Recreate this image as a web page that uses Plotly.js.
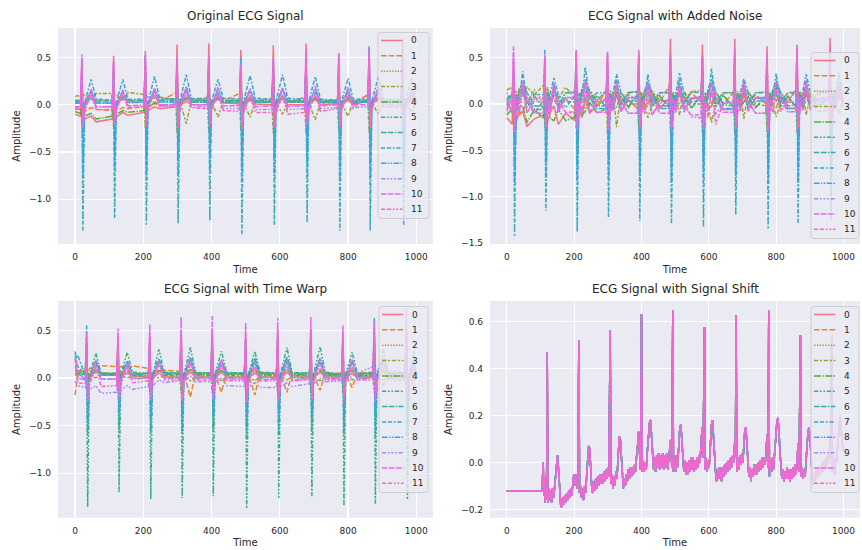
<!DOCTYPE html>
<html>
<head>
<meta charset="utf-8">
<script src="https://cdn.plot.ly/plotly-3.0.1.min.js"></script>
<style>
  html, body { margin: 0; padding: 0; background: #ffffff; }
  #chart { width: 862px; height: 550px; }
</style>
</head>
<body>
<div id="chart"></div>
<script>
// ---------------------------------------------------------------------------
// Lead labels, colours and dash patterns (12 ECG leads)
// ---------------------------------------------------------------------------
const leadNames = ['0', '1', '2', '3', '4', '5', '6', '7', '8', '9', '10', '11'];
const leadColors = ['#f77189', '#e28634', '#bb9832', '#97a431', '#50b131', '#34af84',
                    '#36ada4', '#38aabf', '#3ba3ec', '#a48cf4', '#e866f4', '#f668c2'];
const leadDashes = [
  'solid',
  '5.6px,2.1px',
  '1.4px,1.4px',
  '4.2px,1.75px,2.1px,1.75px',
  '7px,1.4px,1.4px,1.4px',
  '4.2px,1.75px,1.75px,1.75px,1.75px,1.75px',
  '5.6px,1.4px,5.6px,1.4px,1.4px,1.4px',
  '4.2px,1.75px,4.2px,1.75px,1.75px,1.75px',
  '5.6px,1.4px,1.4px,1.4px,1.4px,1.4px',
  '4.2px,1.75px,1.75px,1.75px,1.75px,1.75px,1.75px,1.75px',
  '5.6px,1.4px,5.6px,1.4px,5.6px,1.4px,1.4px,1.4px',
  '4.2px,1.75px,4.2px,1.75px,1.75px,1.75px,1.75px,1.75px'
];

// ---------------------------------------------------------------------------
// Sample times of the original recording – samples around each heartbeat
// ---------------------------------------------------------------------------
const beatTime = [0,
  16, 20, 23, 28, 47, 62,
  109, 113, 116, 121, 140, 155,
  202, 206, 209, 214, 233, 248,
  295, 299, 302, 307, 326, 341,
  388, 392, 395, 400, 419, 434,
  482, 486, 489, 494, 513, 528,
  577, 581, 584, 589, 608, 623,
  673, 677, 680, 685, 704, 719,
  769, 773, 776, 781, 800, 815,
  858, 862, 865, 870, 889, 904,
  956, 960, 963, 968, 987, 999];

// Sample times of the noisy recording (extra samples between beats)
const noisyTime = [0,
  16, 20, 23, 28, 37, 47, 60, 82,
  109, 113, 116, 121, 130, 140, 153, 175,
  202, 206, 209, 214, 223, 233, 246, 268,
  295, 299, 302, 307, 316, 326, 339, 361,
  388, 392, 395, 400, 409, 419, 432, 454,
  482, 486, 489, 494, 503, 513, 526, 548,
  577, 581, 584, 589, 598, 608, 621, 643,
  673, 677, 680, 685, 694, 704, 717, 739,
  769, 773, 776, 781, 790, 800, 813, 835,
  858, 862, 865, 870, 879, 889, 902, 924,
  956, 960, 963, 968, 977, 987, 999];

// Sample times of the time-warped recording
const warpTime = [0, 8,
  30, 34, 37, 42, 61, 76,
  122, 126, 129, 134, 153, 168,
  215, 219, 222, 227, 246, 261,
  307, 311, 314, 319, 338, 353,
  398, 402, 405, 410, 429, 444,
  496, 500, 503, 508, 527, 542,
  590, 594, 597, 602, 621, 636,
  687, 691, 694, 699, 718, 733,
  781, 785, 788, 793, 812, 827,
  873, 877, 880, 885, 904, 919,
  967, 971, 974, 979, 993, 999];

// ---------------------------------------------------------------------------
// Original ECG signal, one array per lead
// ---------------------------------------------------------------------------
const original0 = [-0.10, -0.12,0.49,-0.22,-0.15,-0.12,-0.18, -0.15,0.52,-0.17,-0.13,-0.08,-0.11, -0.08,0.57,-0.10,-0.06,-0.02,-0.04, -0.02,0.64,-0.05,-0.01,0.04,0.00, 0.00,0.65,-0.04,0.01,0.06,0.02, 0.01,0.58,-0.05,0.00,0.05,0.01, 0.00,0.63,-0.04,0.01,0.07,0.00, 0.00,0.65,-0.04,0.00,0.06,0.00, 0.01,0.55,-0.06,0.00,0.05,0.01, 0.04,0.60,-0.04,0.00,0.08,0.02, 0.03,0.71,-0.03,0.01,0.06,0.02];
const original1 = [-0.04, -0.05,0.22,-0.10,-0.07,-0.03,-0.05, -0.06,0.25,-0.09,-0.06,-0.03,-0.04, -0.02,0.30,-0.06,-0.02,0.01,0.03, 0.13,0.35,-0.05,0.02,0.06,0.05, 0.08,0.36,-0.05,0.03,0.06,0.04, 0.12,0.31,-0.05,0.02,0.05,0.04, 0.07,0.33,-0.05,0.02,0.04,0.03, 0.08,0.36,-0.04,0.02,0.06,0.04, 0.05,0.30,-0.05,0.02,0.04,0.03, 0.10,0.35,-0.04,0.02,0.05,0.04, 0.06,0.40,-0.05,0.02,0.05,0.03];
const original2 = [0.04, 0.04,0.15,-0.04,0.03,0.06,0.05, 0.05,0.18,-0.03,0.04,0.06,0.05, 0.05,0.20,-0.03,0.04,0.07,0.05, 0.06,0.22,-0.02,0.04,0.06,0.05, 0.05,0.22,-0.02,0.04,0.07,0.04, 0.05,0.20,-0.03,0.03,0.06,0.04, 0.04,0.21,-0.02,0.03,0.06,0.04, 0.04,0.22,-0.02,0.03,0.06,0.04, 0.04,0.19,-0.03,0.03,0.05,0.04, 0.05,0.22,-0.02,0.03,0.06,0.04, 0.05,0.24,-0.02,0.04,0.06,0.04];
const original3 = [0.09, 0.10,-0.20,0.12,0.10,0.06,0.12, 0.12,-0.24,0.10,0.11,0.05,0.13, 0.11,-0.25,0.09,0.08,0.02,0.08, 0.06,-0.30,0.06,0.05,-0.20,0.05, 0.05,-0.30,0.05,0.03,-0.13,0.04, 0.04,-0.28,0.05,0.02,-0.13,0.03, 0.03,-0.30,0.05,0.02,-0.10,0.03, 0.03,-0.31,0.04,0.02,-0.16,0.02, 0.03,-0.28,0.04,0.02,-0.12,0.03, 0.04,-0.30,0.05,0.02,-0.10,0.03, 0.04,-0.32,0.05,0.03,-0.08,0.04];
const original4 = [-0.07, -0.09,0.30,-0.15,-0.12,-0.09,-0.15, -0.12,0.35,-0.12,-0.10,-0.06,-0.08, -0.06,0.40,-0.07,-0.03,0.02,-0.01, 0.01,0.45,-0.04,0.02,0.07,0.03, 0.03,0.45,-0.03,0.03,0.08,0.03, 0.03,0.42,-0.03,0.02,0.07,0.03, 0.03,0.44,-0.03,0.03,0.08,0.03, 0.03,0.45,-0.03,0.03,0.07,0.03, 0.03,0.40,-0.04,0.02,0.07,0.02, 0.03,0.44,-0.03,0.03,0.08,0.03, 0.03,0.48,-0.03,0.03,0.07,0.03];
const original5 = [0.02, 0.02,0.15,-0.35,0.00,0.08,0.02, 0.02,0.18,-0.33,0.00,0.08,0.03, 0.03,0.20,-0.35,0.01,0.09,0.03, 0.03,0.22,-0.35,0.01,0.09,0.03, 0.03,0.22,-0.34,0.01,0.08,0.03, 0.03,0.20,-0.38,0.01,0.09,0.03, 0.03,0.21,-0.35,0.01,0.10,0.03, 0.03,0.22,-0.34,0.01,0.08,0.03, 0.02,0.19,-0.36,0.01,0.09,0.03, 0.03,0.22,-0.36,0.01,0.09,0.03, 0.03,0.24,-0.35,0.01,0.08,0.03];
const original6 = [0.04, 0.04,0.25,-0.60,0.02,0.12,0.04, 0.04,0.28,-0.55,0.02,0.12,0.04, 0.05,0.30,-0.58,0.03,0.14,0.05, 0.05,0.32,-0.58,0.03,0.15,0.05, 0.05,0.32,-0.56,0.03,0.12,0.05, 0.05,0.30,-0.62,0.03,0.14,0.05, 0.05,0.31,-0.58,0.03,0.15,0.05, 0.05,0.32,-0.57,0.03,0.13,0.05, 0.04,0.29,-0.60,0.03,0.13,0.04, 0.05,0.32,-0.60,0.03,0.13,0.05, 0.05,0.34,-0.58,0.03,0.12,0.05];
const original7 = [0.05, 0.05,0.28,-1.33,0.02,0.27,0.06, 0.05,0.25,-1.20,0.03,0.27,0.06, 0.06,0.30,-1.27,0.03,0.30,0.07, 0.06,0.30,-1.26,0.04,0.32,0.07, 0.06,0.30,-1.23,0.04,0.27,0.07, 0.06,0.28,-1.37,0.04,0.31,0.07, 0.06,0.30,-1.27,0.04,0.32,0.07, 0.06,0.30,-1.24,0.04,0.30,0.06, 0.05,0.28,-1.33,0.04,0.28,0.06, 0.06,0.30,-1.33,0.04,0.30,0.06, 0.06,0.32,-1.27,0.04,0.28,0.06];
const original8 = [0.02, 0.02,0.30,-0.75,0.00,0.15,0.02, 0.02,0.35,-0.70,0.00,0.15,0.02, 0.03,0.53,-0.75,0.01,0.17,0.03, 0.03,0.40,-0.75,0.01,0.18,0.03, 0.03,0.42,-0.72,0.01,0.16,0.03, 0.03,0.50,-0.80,0.01,0.17,0.03, 0.03,0.48,-0.75,0.01,0.18,0.03, 0.03,0.45,-0.72,0.01,0.17,0.03, 0.02,0.42,-0.78,0.01,0.16,0.02, 0.03,0.62,-0.78,0.01,0.18,0.03, 0.03,0.55,-0.75,0.01,0.16,0.03];
const original9 = [-0.02, -0.02,0.54,-0.20,-0.04,0.10,-0.02, -0.02,0.45,-0.18,-0.04,0.10,-0.01, -0.01,0.47,-0.18,-0.03,0.11,-0.01, -0.01,0.50,-0.19,-0.03,0.12,-0.02, -0.02,0.50,-0.18,-0.04,0.11,-0.04, -0.04,0.44,-0.22,-0.06,0.10,-0.05, -0.05,0.47,-0.20,-0.06,0.11,-0.05, -0.04,0.50,-0.19,-0.05,0.12,-0.04, -0.03,0.48,-0.21,-0.05,0.11,-0.03, -0.02,0.52,-0.20,-0.04,0.12,-0.02, -0.02,0.55,-0.19,-0.03,0.11,-0.02];
const original10 = [-0.03, -0.02,0.50,-0.25,-0.05,0.17,-0.02, -0.02,0.47,-0.22,-0.04,0.16,-0.01, 0.00,0.53,-0.23,-0.03,0.18,0.00, 0.00,0.50,-0.24,-0.03,0.20,0.00, 0.00,0.52,-0.23,-0.03,0.19,-0.01, -0.01,0.42,-0.26,-0.04,0.17,-0.02, -0.01,0.48,-0.24,-0.04,0.18,-0.02, -0.01,0.57,-0.23,-0.03,0.20,-0.01, 0.00,0.53,-0.25,-0.03,0.19,0.00, 0.00,0.58,-0.24,-0.03,0.20,0.00, 0.00,0.60,-0.23,-0.02,0.18,0.00];
const original11 = [-0.05, -0.04,0.45,-0.20,-0.06,0.12,-0.05, -0.05,0.44,-0.18,-0.06,0.12,-0.03, -0.02,0.48,-0.18,-0.04,0.14,-0.02, -0.02,0.47,-0.19,-0.04,0.15,-0.03, -0.04,0.48,-0.19,-0.05,0.12,-0.06, -0.07,0.40,-0.21,-0.08,0.10,-0.08, -0.08,0.45,-0.20,-0.09,0.10,-0.10, -0.08,0.50,-0.19,-0.08,0.12,-0.07, -0.04,0.48,-0.21,-0.05,0.12,-0.04, 0.12,0.55,-0.20,-0.03,0.15,-0.02, -0.02,0.58,-0.20,-0.02,0.12,-0.02];

// ---------------------------------------------------------------------------
// ECG signal with added noise
// ---------------------------------------------------------------------------
const noisy0 = [-0.15, -0.22,0.45,-0.28,-0.18,-0.10,-0.08,-0.24,-0.16, -0.12,0.50,-0.24,-0.20,-0.08,-0.02,-0.22,-0.10, -0.18,0.58,-0.14,-0.05,-0.15,0.06,-0.10,-0.02, 0.05,0.52,-0.12,0.07,-0.06,0.10,-0.08,0.04, -0.05,0.58,-0.08,0.08,-0.06,0.02,0.08,-0.05, 0.06,0.70,-0.10,-0.05,0.07,0.12,-0.06,0.05, 0.08,0.64,-0.09,0.05,-0.07,-0.02,0.07,-0.06, -0.06,0.70,-0.08,0.09,-0.05,0.10,-0.05,0.06, 0.07,0.62,-0.12,-0.06,0.06,0.04,0.08,-0.05, -0.05,0.60,-0.08,0.07,-0.06,0.12,-0.06,0.05, 0.06,0.71,-0.10,-0.04,0.05,0.08,0.03];
const noisy1 = [0.02, -0.10,0.25,-0.15,0.05,-0.12,-0.08,0.02,-0.10, 0.04,0.22,-0.12,-0.09,0.05,0.06,-0.05,0.06, -0.06,0.33,-0.10,0.07,-0.05,-0.04,0.09,-0.02, 0.15,0.38,-0.12,-0.04,0.12,0.10,0.00,0.10, 0.04,0.35,-0.09,0.12,-0.02,-0.03,0.10,0.02, 0.19,0.30,-0.10,-0.02,0.10,0.09,0.03,0.12, 0.02,0.36,-0.08,0.10,-0.03,-0.02,0.12,0.00, 0.12,0.33,-0.09,-0.03,0.10,0.11,0.01,0.10, 0.00,0.30,-0.11,0.12,-0.02,-0.04,0.09,0.02, 0.16,0.38,-0.07,-0.02,0.10,0.10,0.02,0.11, 0.03,0.40,-0.09,0.10,-0.02,0.06,0.06];
const noisy2 = [0.12, -0.02,0.18,-0.08,0.14,0.00,0.15,0.02,0.15, 0.02,0.20,-0.06,0.15,0.01,0.14,-0.02,0.12, 0.14,0.23,-0.05,-0.01,0.14,0.02,0.13,0.02, 0.02,0.25,-0.05,0.15,0.01,0.13,0.01,0.13, 0.13,0.22,-0.06,0.00,0.14,0.03,0.14,0.03, 0.00,0.24,-0.07,0.13,0.02,0.14,0.02,0.14, 0.14,0.25,-0.05,0.01,0.12,0.00,0.12,0.00, 0.01,0.23,-0.06,0.14,0.02,0.12,0.02,0.12, 0.13,0.21,-0.05,0.00,0.13,0.02,0.13,0.02, 0.00,0.24,-0.06,0.14,0.01,0.12,0.01,0.12, 0.12,0.25,-0.05,0.02,0.11,0.05,0.08];
const noisy3 = [0.15, 0.18,-0.22,0.16,0.04,0.17,0.08,0.18,0.10, 0.20,-0.26,0.12,0.18,0.02,0.17,0.06,0.18, 0.06,-0.27,0.14,0.00,0.16,0.05,0.15,0.04, 0.14,-0.32,0.10,0.02,0.12,-0.25,0.12,0.00, 0.00,-0.30,0.12,0.13,-0.02,-0.15,0.00,0.12, 0.13,-0.30,0.08,-0.02,0.12,-0.12,0.14,0.00, 0.00,-0.31,0.11,0.12,0.00,-0.20,0.00,0.12, 0.12,-0.32,0.09,-0.02,0.12,-0.16,0.13,0.00, -0.02,-0.30,0.10,0.12,0.00,-0.14,0.02,0.12, 0.13,-0.31,0.08,-0.03,0.12,-0.12,0.12,0.00, 0.00,-0.33,0.10,0.12,0.00,-0.10,0.05];
const noisy4 = [-0.12, -0.05,0.32,-0.20,-0.18,-0.04,-0.02,-0.20,-0.06, -0.16,0.36,-0.18,-0.04,-0.16,-0.18,-0.06,-0.18, -0.14,0.42,-0.10,0.05,-0.12,-0.08,0.02,-0.10, -0.05,0.46,-0.10,0.10,-0.06,-0.03,0.08,-0.04, 0.10,0.45,-0.08,-0.04,0.09,0.12,-0.03,0.08, -0.04,0.44,-0.08,0.10,-0.04,0.00,0.09,-0.05, 0.09,0.45,-0.07,-0.05,0.10,0.12,-0.02,0.09, -0.03,0.46,-0.09,0.10,-0.04,0.02,0.08,-0.04, 0.08,0.42,-0.08,-0.04,0.09,0.11,-0.03,0.08, -0.03,0.45,-0.07,0.09,-0.03,0.02,0.08,-0.04, 0.09,0.48,-0.08,-0.03,0.08,0.10,0.02];
const noisy5 = [0.06, 0.10,0.16,-0.40,-0.06,0.10,0.18,-0.04,0.09, -0.05,0.20,-0.38,0.08,-0.04,0.10,0.07,-0.04, 0.09,0.22,-0.40,-0.05,0.10,0.20,-0.03,0.09, -0.04,0.25,-0.40,0.09,-0.03,0.12,0.08,-0.03, 0.10,0.24,-0.38,-0.04,0.10,0.19,-0.02,0.09, -0.03,0.22,-0.42,0.10,-0.03,0.13,0.09,-0.04, 0.09,0.23,-0.40,-0.05,0.12,0.22,-0.03,0.09, -0.04,0.24,-0.38,0.09,-0.03,0.12,0.08,-0.04, 0.08,0.21,-0.41,-0.04,0.10,0.19,-0.02,0.08, -0.03,0.24,-0.40,0.09,-0.03,0.13,0.08,-0.03, 0.08,0.26,-0.39,-0.03,0.09,0.18,0.02];
const noisy6 = [-0.02, 0.12,0.28,-0.65,-0.04,0.14,0.24,0.12,-0.02, -0.03,0.30,-0.60,0.13,0.00,0.22,-0.02,0.12, 0.12,0.32,-0.63,-0.03,0.15,0.27,0.13,-0.02, -0.02,0.34,-0.63,0.12,0.02,0.26,-0.01,0.12, 0.13,0.34,-0.60,-0.02,0.14,0.24,0.12,-0.02, -0.02,0.32,-0.68,0.12,0.03,0.27,0.00,0.13, 0.12,0.33,-0.63,-0.03,0.16,0.27,0.13,-0.01, -0.02,0.34,-0.62,0.12,0.02,0.25,-0.01,0.12, 0.12,0.31,-0.65,-0.02,0.15,0.26,0.12,-0.02, -0.01,0.34,-0.65,0.13,0.02,0.25,0.00,0.12, 0.12,0.36,-0.63,-0.02,0.14,0.24,0.10];
const noisy7 = [0.04, 0.08,0.30,-1.42,0.10,0.02,0.35,0.02,0.10, 0.10,0.28,-1.15,0.00,0.12,0.28,0.10,0.02, 0.02,0.32,-1.38,0.12,0.04,0.40,0.04,0.12, 0.12,0.32,-1.22,0.02,0.13,0.32,0.12,0.03, 0.03,0.32,-1.26,0.12,0.04,0.32,0.02,0.12, 0.12,0.30,-1.29,0.03,0.13,0.33,0.12,0.02, 0.04,0.32,-1.32,0.12,0.05,0.38,0.03,0.12, 0.12,0.32,-1.19,0.02,0.13,0.27,0.12,0.03, 0.03,0.30,-1.34,0.12,0.04,0.33,0.02,0.12, 0.12,0.32,-1.29,0.03,0.13,0.32,0.12,0.03, 0.03,0.34,-1.25,0.10,0.05,0.33,0.06];
const noisy8 = [-0.05, 0.05,0.35,-0.85,-0.08,0.06,0.20,0.06,-0.06, -0.06,0.58,-0.80,0.08,-0.05,0.18,-0.05,0.07, 0.06,0.55,-0.82,-0.06,0.07,0.22,0.07,-0.05, -0.05,0.45,-0.80,0.07,-0.04,0.20,-0.06,0.06, 0.06,0.46,-0.78,-0.06,0.07,0.21,0.07,-0.05, -0.05,0.52,-0.85,0.07,-0.05,0.20,-0.05,0.07, 0.07,0.50,-0.80,-0.05,0.08,0.22,0.06,-0.05, -0.05,0.50,-0.78,0.07,-0.04,0.19,-0.06,0.06, 0.06,0.45,-0.85,-0.06,0.07,0.21,0.07,-0.05, -0.04,0.63,-0.82,0.07,-0.04,0.22,-0.05,0.06, 0.06,0.56,-0.80,-0.05,0.06,0.20,0.05];
const noisy9 = [0.02, -0.08,0.55,-0.24,0.04,-0.09,0.14,-0.09,0.03, 0.04,0.48,-0.22,-0.10,0.03,0.15,0.03,-0.09, -0.10,0.50,-0.22,0.03,-0.10,0.14,-0.09,0.03, 0.03,0.52,-0.24,-0.10,0.02,0.16,0.02,-0.10, -0.10,0.52,-0.22,0.02,-0.11,0.14,-0.12,0.01, 0.00,0.47,-0.26,-0.12,0.00,0.13,-0.02,-0.12, -0.12,0.50,-0.24,0.00,-0.12,0.15,-0.11,0.01, 0.01,0.52,-0.23,-0.10,0.01,0.16,0.00,-0.10, -0.10,0.50,-0.25,0.02,-0.09,0.14,-0.08,0.02, 0.02,0.54,-0.24,-0.09,0.02,0.16,0.01,-0.08, -0.08,0.56,-0.23,0.02,-0.07,0.14,-0.05];
const noisy10 = [-0.08, 0.08,0.62,-0.30,-0.12,0.07,0.24,0.06,-0.10, -0.10,0.52,-0.27,0.08,-0.09,0.22,-0.08,0.07, 0.07,0.56,-0.28,-0.10,0.06,0.25,0.08,-0.09, -0.09,0.56,-0.28,0.08,-0.08,0.24,-0.08,0.07, 0.07,0.55,-0.27,-0.10,0.06,0.23,0.06,-0.10, -0.10,0.50,-0.30,0.07,-0.09,0.22,-0.09,0.06, 0.06,0.52,-0.28,-0.10,0.07,0.23,0.07,-0.09, -0.09,0.60,-0.27,0.08,-0.08,0.25,-0.08,0.07, 0.07,0.56,-0.29,-0.09,0.06,0.24,0.06,-0.09, -0.08,0.64,-0.28,0.08,-0.07,0.25,-0.07,0.06, 0.06,0.62,-0.27,-0.08,0.05,0.22,0.04];
const noisy11 = [0.05, -0.10,0.50,-0.24,0.07,-0.10,0.18,-0.10,0.06, 0.06,0.48,-0.22,-0.12,0.05,0.17,0.05,-0.10, -0.08,0.58,-0.22,0.06,-0.08,0.20,-0.10,0.05, 0.05,0.56,-0.23,-0.10,0.05,0.20,0.04,-0.10, -0.10,0.54,-0.22,0.05,-0.10,0.17,-0.12,0.04, 0.03,0.45,-0.25,-0.14,0.03,0.15,0.02,-0.14, -0.15,0.50,-0.24,0.03,-0.15,0.16,-0.22,0.02, 0.02,0.55,-0.23,-0.12,0.03,0.18,0.03,-0.10, -0.10,0.52,-0.25,0.05,-0.09,0.17,-0.08,0.05, 0.12,0.60,-0.24,-0.08,0.10,0.20,0.05,-0.08, -0.06,0.62,-0.23,0.04,-0.05,0.17,-0.03];

// ---------------------------------------------------------------------------
// ECG signal with time warp
// ---------------------------------------------------------------------------
const warped0 = [0.07, 0.08, 0.06,0.40,-0.08,0.02,0.06,0.05, 0.04,0.42,-0.06,0.02,0.05,0.02, 0.01,0.44,-0.06,0.00,0.05,0.01, 0.01,0.50,-0.05,0.00,0.06,0.01, 0.01,0.52,-0.05,0.00,0.06,0.01, 0.01,0.46,-0.06,0.00,0.05,0.01, 0.01,0.50,-0.05,0.00,0.06,0.01, 0.01,0.52,-0.05,0.00,0.06,0.01, 0.01,0.45,-0.06,0.00,0.05,0.01, 0.01,0.50,-0.05,0.00,0.06,0.01, 0.01,0.55,-0.05,0.00,0.05,0.01];
const warped1 = [-0.18, 0.05, 0.09,0.15,-0.06,0.10,0.12,0.13, 0.12,0.20,-0.05,0.12,0.10,0.13, 0.10,0.16,-0.05,0.08,0.06,0.08, 0.07,0.12,-0.06,0.05,-0.20,0.05, 0.05,0.12,-0.05,0.04,-0.15,0.05, 0.05,0.10,-0.06,0.04,-0.18,0.06, 0.05,0.12,-0.05,0.04,-0.15,0.05, 0.05,0.12,-0.05,0.04,-0.13,0.05, 0.05,0.10,-0.06,0.04,-0.10,0.05, 0.06,0.12,-0.05,0.04,-0.08,0.05, 0.05,0.12,-0.05,0.04,-0.10,0.04];
const warped2 = [0.04, 0.05, 0.04,0.18,-0.04,0.03,0.06,0.05, 0.05,0.18,-0.03,0.04,0.06,0.05, 0.05,0.20,-0.03,0.04,0.07,0.05, 0.05,0.22,-0.02,0.04,0.06,0.05, 0.05,0.22,-0.02,0.04,0.07,0.04, 0.05,0.20,-0.03,0.03,0.06,0.04, 0.04,0.21,-0.02,0.03,0.06,0.04, 0.04,0.22,-0.02,0.03,0.06,0.04, 0.04,0.19,-0.03,0.03,0.05,0.04, 0.05,0.22,-0.02,0.03,0.06,0.04, 0.05,0.24,-0.02,0.04,0.06,0.04];
const warped3 = [0.03, 0.02, 0.02,-0.12,0.06,0.03,0.00,0.03, 0.03,-0.14,0.05,0.02,0.00,0.02, 0.02,-0.15,0.05,0.02,0.00,0.02, 0.02,-0.16,0.04,0.02,-0.03,0.02, 0.02,-0.16,0.04,0.02,-0.03,0.02, 0.02,-0.15,0.04,0.02,-0.03,0.02, 0.02,-0.16,0.04,0.02,-0.02,0.02, 0.02,-0.16,0.04,0.02,-0.03,0.02, 0.02,-0.15,0.04,0.02,-0.02,0.02, 0.02,-0.16,0.04,0.02,-0.02,0.02, 0.02,-0.17,0.04,0.02,-0.02,0.02];
const warped4 = [0.08, 0.06, 0.05,0.35,-0.06,0.04,0.08,0.05, 0.05,0.36,-0.05,0.04,0.08,0.04, 0.04,0.40,-0.05,0.03,0.08,0.04, 0.04,0.45,-0.04,0.03,0.09,0.04, 0.04,0.45,-0.04,0.03,0.08,0.04, 0.04,0.42,-0.04,0.03,0.08,0.04, 0.04,0.44,-0.04,0.03,0.09,0.04, 0.04,0.45,-0.04,0.03,0.08,0.04, 0.03,0.40,-0.04,0.03,0.08,0.03, 0.04,0.44,-0.04,0.03,0.09,0.04, 0.04,0.48,-0.04,0.03,0.08,0.04];
const warped5 = [0.28, 0.12, 0.04,0.30,-1.35,0.02,0.26,0.05, 0.04,0.28,-1.20,0.03,0.27,0.06, 0.05,0.30,-1.27,0.03,0.30,0.06, 0.05,0.30,-1.26,0.04,0.32,0.06, 0.05,0.30,-1.24,0.04,0.28,0.06, 0.05,0.28,-1.37,0.04,0.28,0.06, 0.05,0.30,-1.26,0.04,0.32,0.06, 0.05,0.30,-1.24,0.04,0.33,0.06, 0.04,0.28,-1.34,0.04,0.27,0.05, 0.05,0.63,-1.32,0.04,0.30,0.05, 0.05,0.32,-1.27,0.04,0.28,0.05];
const warped6 = [0.05, 0.04, 0.04,0.25,-0.60,0.02,0.18,0.04, 0.04,0.26,-0.55,0.02,0.18,0.04, 0.05,0.28,-0.58,0.03,0.20,0.05, 0.05,0.30,-0.58,0.03,0.22,0.05, 0.05,0.30,-0.56,0.03,0.19,0.05, 0.05,0.28,-0.62,0.03,0.21,0.05, 0.05,0.29,-0.58,0.03,0.22,0.05, 0.05,0.30,-0.57,0.03,0.21,0.05, 0.04,0.27,-0.60,0.03,0.19,0.04, 0.05,0.30,-0.60,0.03,0.21,0.05, 0.05,0.32,-0.58,0.03,0.19,0.05];
const warped7 = [0.20, 0.24, 0.02,0.55,-0.50,0.00,0.18,0.03, 0.03,0.30,-0.45,0.01,0.17,0.03, 0.03,0.32,-0.48,0.01,0.19,0.03, 0.03,0.33,-0.48,0.01,0.20,0.03, 0.03,0.33,-0.46,0.01,0.18,0.03, 0.03,0.30,-0.52,0.01,0.19,0.03, 0.03,0.32,-0.48,0.01,0.20,0.03, 0.03,0.33,-0.47,0.01,0.19,0.03, 0.02,0.30,-0.50,0.01,0.18,0.02, 0.03,0.33,-0.50,0.01,0.19,0.03, 0.03,0.35,-0.48,0.01,0.18,0.03];
const warped8 = [0.12, 0.05, -0.02,0.35,-0.40,-0.03,0.16,-0.01, -0.01,0.32,-0.36,-0.03,0.15,-0.01, 0.00,0.35,-0.38,-0.02,0.17,0.00, 0.00,0.36,-0.38,-0.02,0.18,0.00, 0.00,0.36,-0.37,-0.02,0.16,0.00, 0.00,0.33,-0.41,-0.02,0.17,0.00, 0.00,0.35,-0.38,-0.02,0.18,0.00, 0.00,0.36,-0.37,-0.02,0.17,0.00, -0.01,0.33,-0.40,-0.02,0.16,-0.01, 0.00,0.36,-0.40,-0.02,0.17,0.00, 0.00,0.38,-0.38,-0.02,0.16,0.00];
const warped9 = [-0.03, -0.08, -0.10,0.30,-0.18,-0.12,-0.08,-0.16, -0.15,0.32,-0.18,-0.13,-0.08,-0.12, -0.09,0.36,-0.15,-0.08,-0.02,-0.05, -0.03,0.40,-0.12,-0.04,0.02,-0.04, -0.04,0.40,-0.12,-0.05,0.00,-0.08, -0.09,0.36,-0.14,-0.09,-0.05,-0.10, -0.10,0.40,-0.13,-0.09,-0.05,-0.09, -0.06,0.42,-0.13,-0.06,0.00,-0.04, -0.03,0.40,-0.14,-0.04,0.02,0.05, 0.12,0.45,-0.13,0.08,0.15,0.08, 0.05,0.45,-0.12,0.03,0.10,0.03];
const warped10 = [0.24, 0.00, -0.02,0.47,-0.25,-0.04,0.17,-0.01, -0.01,0.52,-0.22,-0.03,0.16,0.00, 0.00,0.56,-0.23,-0.03,0.18,0.00, 0.00,0.64,-0.24,-0.03,0.20,0.00, 0.00,0.65,-0.23,-0.03,0.19,-0.01, -0.01,0.58,-0.26,-0.04,0.17,-0.02, -0.01,0.63,-0.24,-0.04,0.18,-0.02, -0.01,0.64,-0.23,-0.03,0.20,-0.01, 0.00,0.55,-0.25,-0.03,0.19,0.00, 0.00,0.60,-0.24,-0.03,0.20,0.00, 0.00,0.72,-0.23,-0.02,0.18,0.00];
const warped11 = [0.20, -0.05, -0.06,0.45,-0.20,-0.08,0.12,-0.09, -0.08,0.44,-0.18,-0.08,0.12,-0.05, -0.03,0.48,-0.18,-0.04,0.14,-0.02, -0.02,0.47,-0.19,-0.04,0.15,-0.02, -0.02,0.48,-0.19,-0.04,0.13,-0.03, -0.03,0.42,-0.21,-0.05,0.12,-0.03, -0.03,0.45,-0.20,-0.05,0.12,-0.03, -0.02,0.50,-0.19,-0.04,0.13,-0.02, -0.02,0.48,-0.21,-0.04,0.12,-0.02, -0.02,0.52,-0.20,-0.03,0.14,-0.02, -0.02,0.55,-0.20,-0.02,0.12,-0.02];

// ---------------------------------------------------------------------------
// ECG signal with signal shift (identical for every lead)
// ---------------------------------------------------------------------------
const shiftTime = [
  0, 104, 106, 108, 110, 112, 114, 116, 118, 120,
  122, 124, 127, 130, 133, 136, 139, 142, 145, 148,
  151, 154, 157, 160, 163, 166, 169, 172, 175, 178,
  181, 184, 187, 190, 193, 196, 199, 202, 205, 208,
  211, 214, 216, 219, 222, 225, 228, 231, 234, 237,
  240, 243, 246, 249, 252, 255, 258, 261, 264, 267,
  270, 273, 276, 279, 282, 285, 288, 291, 294, 297,
  300, 303, 307, 309, 312, 315, 318, 321, 324, 327,
  330, 334, 337, 340, 343, 346, 349, 352, 355, 358,
  361, 364, 367, 370, 373, 376, 379, 382, 385, 388,
  391, 394, 397, 400, 402, 405, 408, 411, 414, 417,
  420, 424, 427, 430, 433, 436, 439, 442, 445, 448,
  451, 454, 457, 460, 463, 466, 469, 472, 475, 478,
  481, 484, 487, 490, 493, 495, 498, 501, 504, 507,
  510, 514, 517, 520, 523, 526, 529, 532, 535, 538,
  541, 544, 547, 550, 553, 556, 559, 562, 565, 568,
  571, 574, 577, 580, 583, 587, 589, 592, 595, 598,
  601, 604, 608, 611, 614, 617, 620, 623, 626, 629,
  632, 635, 638, 641, 644, 647, 650, 653, 656, 659,
  662, 665, 668, 671, 674, 677, 679, 681, 683, 686,
  689, 692, 695, 698, 701, 704, 707, 710, 713, 716,
  719, 722, 725, 728, 731, 734, 737, 740, 743, 746,
  749, 752, 755, 758, 761, 764, 767, 770, 773, 776,
  778, 780, 783, 786, 789, 792, 795, 798, 802, 805,
  808, 811, 814, 817, 820, 823, 826, 829, 832, 835,
  838, 841, 844, 847, 850, 853, 856, 859, 862, 865,
  868, 872, 874, 877, 880, 883, 886, 889, 893, 897,
  900, 903, 906, 909, 912, 915, 918, 921, 924, 927,
  930, 933, 936, 939, 942, 945, 948, 951, 954, 957,
  960, 963, 965, 967, 970, 973, 976, 979, 982, 986,
  990, 994, 999];
const shiftAmp = [
  -0.12, -0.12, -0.07, 0.00, -0.14, -0.06, -0.17, -0.10, -0.16, 0.47,
  -0.17, -0.11, -0.16, -0.12, -0.17, -0.11, -0.15, -0.09, -0.05, -0.01,
  0.03, -0.04, -0.12, -0.18, -0.19, -0.15, -0.18, -0.14, -0.17, -0.13,
  -0.16, -0.12, -0.15, -0.11, -0.14, -0.09, -0.05, -0.10, -0.05, -0.11,
  -0.07, 0.52, -0.13, -0.10, -0.15, -0.11, -0.16, -0.10, -0.13, -0.06,
  0.00, 0.07, 0.06, -0.03, -0.10, -0.13, -0.08, -0.12, -0.07, -0.11,
  -0.06, -0.10, -0.05, -0.09, -0.05, -0.09, -0.04, -0.08, -0.03, -0.07,
  -0.02, -0.06, 0.56, -0.09, -0.05, -0.11, -0.06, -0.10, -0.04, -0.07,
  0.03, 0.11, 0.10, 0.02, -0.06, -0.11, -0.07, -0.10, -0.05, -0.08,
  -0.03, -0.07, -0.02, -0.06, -0.02, -0.05, -0.01, -0.04, 0.02, 0.06,
  0.13, 0.02, -0.03, 0.63, -0.04, 0.01, -0.04, 0.00, -0.03, 0.04,
  0.10, 0.17, 0.18, 0.10, 0.02, -0.03, 0.02, -0.04, 0.03, -0.02,
  0.04, -0.03, 0.03, -0.02, 0.04, -0.03, 0.03, -0.02, 0.04, -0.03,
  0.02, 0.06, 0.10, -0.02, 0.645, -0.04, 0.02, -0.04, 0.03, -0.02,
  0.06, 0.15, 0.16, 0.09, 0.02, -0.04, 0.01, -0.05, 0.00, -0.05,
  0.01, -0.04, 0.02, -0.03, 0.02, -0.04, 0.01, -0.03, 0.02, -0.02,
  0.03, 0.00, 0.08, 0.15, 0.02, 0.575, -0.03, 0.02, -0.04, 0.01,
  -0.02, 0.06, 0.16, 0.18, 0.10, 0.03, -0.04, -0.08, -0.03, -0.07,
  -0.02, -0.06, -0.08, -0.02, -0.06, -0.01, -0.05, 0.00, -0.04, 0.01,
  -0.03, 0.02, -0.02, 0.03, 0.00, 0.09, 0.02, 0.625, -0.04, 0.02,
  -0.03, 0.03, -0.01, 0.04, 0.00, 0.07, 0.14, 0.15, 0.08, 0.01,
  -0.06, -0.02, -0.08, -0.03, -0.06, -0.01, -0.05, -0.01, -0.05, 0.00,
  -0.04, 0.01, -0.03, 0.02, -0.02, 0.02, -0.01, 0.04, 0.12, -0.02,
  0.645, -0.06, 0.01, -0.04, 0.02, -0.03, 0.04, 0.08, 0.17, 0.19,
  0.14, 0.05, -0.02, -0.07, -0.03, -0.08, -0.04, -0.07, -0.02, -0.07,
  -0.03, -0.08, -0.03, -0.07, -0.02, -0.06, -0.01, -0.05, 0.00, 0.08,
  -0.04, 0.54, -0.06, -0.02, -0.07, -0.03, -0.06, 0.02, 0.10, 0.15,
  0.12, 0.04, -0.04, -0.10, -0.05, -0.08, -0.03, -0.07, -0.02, -0.06,
  -0.02, -0.05, 0.00, -0.04, 0.01, -0.03, 0.02, -0.02, 0.03, 0.00,
  0.10, 0.02, 0.54, -0.04, 0.01, -0.05, 0.02, 0.00, 0.06, 0.15,
  0.20, 0.12, 0.05];

const originalLeads = [original0, original1, original2, original3, original4, original5,
                       original6, original7, original8, original9, original10, original11];
const noisyLeads = [noisy0, noisy1, noisy2, noisy3, noisy4, noisy5,
                    noisy6, noisy7, noisy8, noisy9, noisy10, noisy11];
const warpedLeads = [warped0, warped1, warped2, warped3, warped4, warped5,
                     warped6, warped7, warped8, warped9, warped10, warped11];
const shiftedLeads = leadNames.map(() => shiftAmp);

// ---------------------------------------------------------------------------
// Layout geometry (pixel boxes of the four panels)
// ---------------------------------------------------------------------------
const W = 862, H = 550;
const fx = p => p / W;
const fy = p => 1 - p / H;
const INK = '#262626';
const FONT = 'DejaVu Sans, Arial, sans-serif';

const panels = [
  { title: 'Original ECG Signal',          x: [58, 433],  y: [28, 244],    yr: [-1.474, 0.814], dy: 0.5, time: beatTime,  leads: originalLeads, leg: { x0: 378, x1: 429, y0: 32.5 } },
  { title: 'ECG Signal with Added Noise',  x: [490, 860], y: [28, 244],    yr: [-1.508, 0.817], dy: 0.5, time: noisyTime, leads: noisyLeads,    leg: { x0: 811, x1: 859, y0: 52.5 } },
  { title: 'ECG Signal with Time Warp',    x: [58, 433],  y: [301, 517.7], yr: [-1.466, 0.808], dy: 0.5, time: warpTime,  leads: warpedLeads,   leg: { x0: 379, x1: 428, y0: 306.5 } },
  { title: 'ECG Signal with Signal Shift', x: [490, 860], y: [301, 517.7], yr: [-0.235, 0.687], dy: 0.2, time: shiftTime, leads: shiftedLeads,  leg: { x0: 811, x1: 859, y0: 306.5 } }
];

const traces = [];
const layout = {
  width: W, height: H,
  margin: { l: 0, r: 0, t: 0, b: 0 },
  paper_bgcolor: '#ffffff',
  plot_bgcolor: '#eaeaf2',
  font: { family: FONT, color: INK, size: 10 },
  showlegend: false,
  shapes: [],
  annotations: []
};

panels.forEach((p, k) => {
  const n = k + 1;
  const xa = 'x' + (n === 1 ? '' : n), ya = 'y' + (n === 1 ? '' : n);
  const xKey = 'xaxis' + (n === 1 ? '' : n), yKey = 'yaxis' + (n === 1 ? '' : n);

  layout[xKey] = {
    domain: [fx(p.x[0]), fx(p.x[1])], anchor: ya,
    range: [-49.95, 1048.95], tick0: 0, dtick: 200,
    showgrid: true, gridcolor: '#ffffff', gridwidth: 1.2,
    zeroline: false, showline: false, ticks: '',
    ticklabelstandoff: 6,
    tickfont: { size: 9, color: INK, family: FONT },
    title: { text: 'Time', font: { size: 10, color: INK, family: FONT }, standoff: 4 },
    fixedrange: true
  };
  layout[yKey] = {
    domain: [fy(p.y[1]), fy(p.y[0])], anchor: xa,
    range: p.yr, tick0: 0, dtick: p.dy, tickformat: '.1f',
    showgrid: true, gridcolor: '#ffffff', gridwidth: 1.2,
    zeroline: false, showline: false, ticks: '',
    ticklabelstandoff: 6,
    tickfont: { size: 9, color: INK, family: FONT },
    title: { text: 'Amplitude', font: { size: 10, color: INK, family: FONT }, standoff: 6 },
    fixedrange: true
  };

  // one line per lead
  p.leads.forEach((vals, i) => {
    traces.push({
      type: 'scatter', mode: 'lines',
      x: p.time, y: vals, name: leadNames[i],
      xaxis: xa, yaxis: ya,
      line: { color: leadColors[i], width: 1.5, dash: leadDashes[i] },
      hoverinfo: 'skip', showlegend: false
    });
  });

  // panel title
  layout.annotations.push({
    xref: 'paper', yref: 'paper',
    x: fx((p.x[0] + p.x[1]) / 2), y: fy(p.y[0] - 12),
    xanchor: 'center', yanchor: 'middle', showarrow: false,
    text: p.title, font: { size: 12, color: INK, family: FONT }
  });

  // legend box with rounded corners
  const L = p.leg, step = 15.35, boxH = 186;
  const x0 = L.x0, x1 = L.x1, y0 = L.y0, y1 = L.y0 + boxH, r = 3;
  const path = [
    'M', fx(x0 + r), fy(y0), 'L', fx(x1 - r), fy(y0),
    'Q', fx(x1), fy(y0), fx(x1), fy(y0 + r),
    'L', fx(x1), fy(y1 - r),
    'Q', fx(x1), fy(y1), fx(x1 - r), fy(y1),
    'L', fx(x0 + r), fy(y1),
    'Q', fx(x0), fy(y1), fx(x0), fy(y1 - r),
    'L', fx(x0), fy(y0 + r),
    'Q', fx(x0), fy(y0), fx(x0 + r), fy(y0), 'Z'
  ].join(' ');
  layout.shapes.push({
    type: 'path', xref: 'paper', yref: 'paper', path: path, layer: 'above',
    fillcolor: 'rgba(234,234,242,0.8)', line: { color: 'rgba(204,204,204,0.9)', width: 1 }
  });
  leadNames.forEach((name, i) => {
    const yc = y0 + 8 + step * i;
    layout.shapes.push({
      type: 'line', xref: 'paper', yref: 'paper', layer: 'above',
      x0: fx(x0 + 3), x1: fx(x0 + 24.5), y0: fy(yc), y1: fy(yc),
      line: { color: leadColors[i], width: 1.5, dash: leadDashes[i] }
    });
    layout.annotations.push({
      xref: 'paper', yref: 'paper', x: fx(x0 + 31), y: fy(yc),
      xanchor: 'left', yanchor: 'middle', showarrow: false,
      text: name, font: { size: 9, color: INK, family: FONT }
    });
  });
});

Plotly.newPlot('chart', traces, layout, { staticPlot: true, displayModeBar: false });
</script>
</body>
</html>
